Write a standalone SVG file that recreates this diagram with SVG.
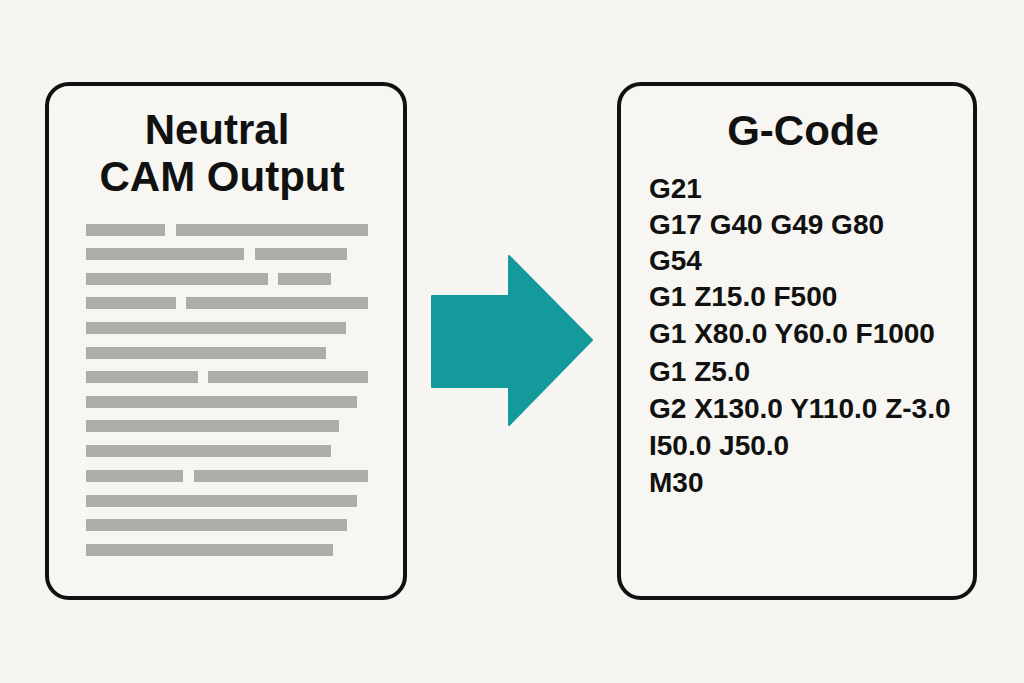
<svg xmlns="http://www.w3.org/2000/svg" width="1024" height="683" viewBox="0 0 1024 683">
<style>
.box{fill:#f7f6f2;stroke:#111;stroke-width:4}
.title{font-family:"Liberation Sans",Arial,sans-serif;font-weight:bold;font-size:42px;fill:#111;text-anchor:middle}
.code{font-family:"Liberation Sans",Arial,sans-serif;font-weight:bold;font-size:28px;fill:#111}
.bar{fill:#aeada9}
</style>
<rect width="1024" height="683" fill="#f6f5f1"/>
<g id="neutral">
<rect class="box" x="47" y="84" width="358" height="514" rx="22"/>
<text class="title"><tspan x="217" y="144">Neutral</tspan><tspan x="222" y="191">CAM Output</tspan></text>
<g>
<rect class="bar" x="86" y="224" width="79" height="12"/>
<rect class="bar" x="176" y="224" width="192" height="12"/>
<rect class="bar" x="86" y="248" width="158" height="12"/>
<rect class="bar" x="255" y="248" width="92" height="12"/>
<rect class="bar" x="86" y="273" width="182" height="12"/>
<rect class="bar" x="278" y="273" width="53" height="12"/>
<rect class="bar" x="86" y="297" width="90" height="12"/>
<rect class="bar" x="186" y="297" width="182" height="12"/>
<rect class="bar" x="86" y="322" width="260" height="12"/>
<rect class="bar" x="86" y="347" width="240" height="12"/>
<rect class="bar" x="86" y="371" width="112" height="12"/>
<rect class="bar" x="208" y="371" width="160" height="12"/>
<rect class="bar" x="86" y="396" width="271" height="12"/>
<rect class="bar" x="86" y="420" width="253" height="12"/>
<rect class="bar" x="86" y="445" width="245" height="12"/>
<rect class="bar" x="86" y="470" width="97" height="12"/>
<rect class="bar" x="194" y="470" width="174" height="12"/>
<rect class="bar" x="86" y="495" width="271" height="12"/>
<rect class="bar" x="86" y="519" width="261" height="12"/>
<rect class="bar" x="86" y="544" width="247" height="12"/>
</g>
</g>
<g id="connectors">
<path d="M432,296 L509,296 L509,256 L592,340 L509,425 L509,387 L432,387 Z" fill="#159a9c" stroke="#159a9c" stroke-width="2" stroke-linejoin="round"/>
</g>
<g id="gcode">
<rect class="box" x="619" y="84" width="356" height="514" rx="22"/>
<text class="title" x="803" y="145">G-Code</text>
<text class="code" x="649" y="198">G21</text>
<text class="code" x="649" y="234">G17 G40 G49 G80</text>
<text class="code" x="649" y="270">G54</text>
<text class="code" x="649" y="306">G1 Z15.0 F500</text>
<text class="code" x="649" y="343">G1 X80.0 Y60.0 F1000</text>
<text class="code" x="649" y="381">G1 Z5.0</text>
<text class="code" x="649" y="418">G2 X130.0 Y110.0 Z-3.0</text>
<text class="code" x="649" y="455">I50.0 J50.0</text>
<text class="code" x="649" y="492">M30</text>
</g>
</svg>
